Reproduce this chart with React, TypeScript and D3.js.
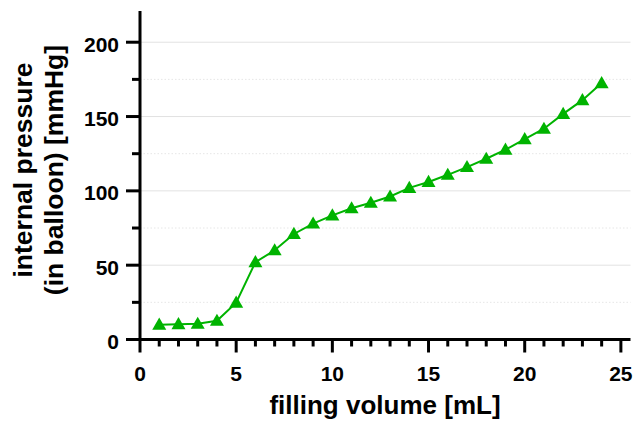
import React from 'react';
import * as d3 from 'd3';

// filling volume [mL]
const volumes = [1, 2, 3, 4, 5, 6, 7, 8, 9, 10, 11, 12, 13, 14, 15, 16, 17, 18, 19, 20, 21, 22, 23, 24];
// internal pressure [mmHg]
const pressures = [10, 10.3, 10.6, 12.6, 24.8, 52, 60, 71, 78, 83.5, 88.3, 92, 96.2, 102, 106, 110.8, 116, 121.6, 127.7, 134.8, 141.8, 151.8, 161, 172.5];

const xTicks = [0, 5, 10, 15, 20, 25];
const yTicks = [0, 50, 100, 150, 200];
const yMinor = [25, 75, 125, 175];

const W = 634;
const H = 424;
const green = '#00b300';
const font = '"Liberation Sans", Arial, sans-serif';

export default function App() {
  const x = d3.scaleLinear().domain([0, 25.5]).range([140, 630.5]);
  const y = d3.scaleLinear().domain([0, 221]).range([339.5, 11]);

  const line = d3
    .line<number>()
    .x((_, i) => x(volumes[i]))
    .y((d) => y(d));

  const tri = d3.symbol().type(d3.symbolTriangle).size(85)();
  const xMinor = d3.range(1, 26).filter((v) => v % 5 !== 0);

  return (
    <svg width={W} height={H} style={{ position: 'absolute', left: 0, top: 0 }}>
      <rect width={W} height={H} fill="#fff" />

      {/* grid */}
      {yTicks.slice(1).map((t) => (
        <line key={'g' + t} x1={x(0)} x2={x(25.5)} y1={y(t)} y2={y(t)} stroke="#e2e2e2" strokeWidth={1} />
      ))}
      {yMinor.map((t) => (
        <line key={'m' + t} x1={x(0)} x2={x(25.5)} y1={y(t)} y2={y(t)} stroke="#e6e6e6" strokeWidth={1} strokeDasharray="1.5,2" />
      ))}

      {/* data */}
      <path d={line(pressures) ?? ''} fill="none" stroke={green} strokeWidth={2} />
      {pressures.map((p, i) => (
        <path key={i} d={tri ?? ''} transform={`translate(${x(volumes[i])},${y(p) + 1})`} fill={green} />
      ))}

      {/* axes */}
      <g stroke="#000" strokeWidth={3}>
        <line x1={x(0)} x2={x(0)} y1={y(221)} y2={y(0) + 1.5} />
        <line x1={x(0) - 1.5} x2={x(25.5)} y1={y(0)} y2={y(0)} />
        {yTicks.map((t) => (
          <line key={'yt' + t} x1={x(0) - 14} x2={x(0)} y1={y(t)} y2={y(t)} />
        ))}
        {yMinor.map((t) => (
          <line key={'ym' + t} x1={x(0) - 8} x2={x(0)} y1={y(t)} y2={y(t)} />
        ))}
        {xTicks.map((t) => (
          <line key={'xt' + t} x1={x(t)} x2={x(t)} y1={y(0)} y2={y(0) + 13} />
        ))}
        {xMinor.map((t) => (
          <line key={'xm' + t} x1={x(t)} x2={x(t)} y1={y(0)} y2={y(0) + 7} />
        ))}
      </g>

      {/* tick labels */}
      <g fontFamily={font} fontWeight="bold" fontSize={21} fill="#000">
        {yTicks.map((t) => (
          <text key={'yl' + t} x={x(0) - 21} y={y(t)} dy="0.45em" textAnchor="end">
            {t}
          </text>
        ))}
        {xTicks.map((t) => (
          <text key={'xl' + t} x={x(t)} y={381} textAnchor="middle">
            {t}
          </text>
        ))}
      </g>

      {/* axis titles */}
      <g fontFamily={font} fontWeight="bold" fill="#000" textAnchor="middle">
        <text x={385} y={414} fontSize={26}>filling volume [mL]</text>
        <text transform="translate(32,170) rotate(-90)" fontSize={26.5}>internal pressure</text>
        <text transform="translate(63,170) rotate(-90)" fontSize={26.5}>(in balloon) [mmHg]</text>
      </g>
    </svg>
  );
}
